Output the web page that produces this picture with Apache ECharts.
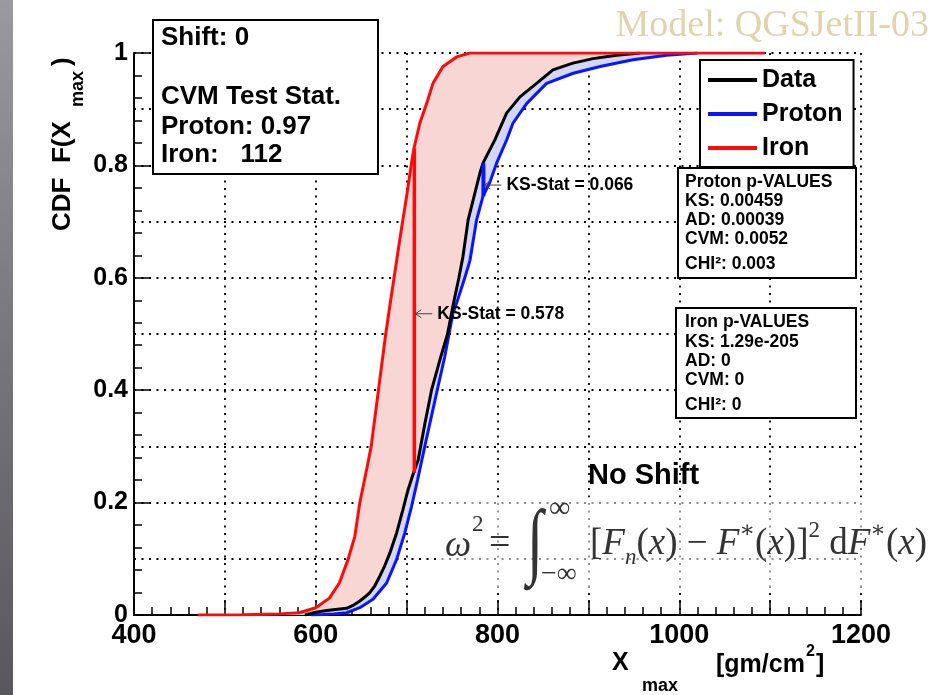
<!DOCTYPE html>
<html><head><meta charset="utf-8">
<script src="https://cdn.jsdelivr.net/npm/echarts@6/dist/echarts.min.js"></script>
<style>html,body{margin:0;padding:0;background:#fff}#c{width:935px;height:695px}</style>
</head><body><div id="c"></div>
<script>
// ---------- data ----------
const xTickLabels = [400, 600, 800, 1000, 1200];
const yTickLabels = [0, 0.2, 0.4, 0.6, 0.8, 1];
const seriesNames = ['Data', 'Proton', 'Iron'];
// empirical CDFs: [Xmax, F]
const dataCdf = [[588,0],[600,0.005],[612,0.008],[634,0.012],[641,0.017],[648.5,0.025],[654,0.032],[659.5,0.04],[665,0.052],[670.5,0.069],[676,0.088],[681.5,0.11],[689,0.146],[696,0.188],[701.6,0.223],[707,0.25],[712.7,0.276],[720,0.34],[727.4,0.40],[736.6,0.454],[745,0.50],[751,0.55],[757.5,0.60],[762,0.638],[767.7,0.703],[775,0.75],[780.6,0.786],[784,0.804],[791.6,0.828],[797,0.845],[810,0.893],[824.7,0.922],[843,0.946],[861,0.97],[883,0.982],[905,0.99],[931,0.996],[957,1.0]];
const protonCdf = [[595,0],[608,0.001],[620,0.002],[634,0.004],[648.5,0.013],[663,0.028],[678,0.057],[689,0.099],[698,0.146],[705.4,0.193],[712,0.24],[720,0.30],[733,0.395],[742,0.46],[751,0.537],[755,0.555],[764,0.60],[769.6,0.63],[777,0.703],[784,0.745],[791.6,0.77],[799,0.804],[810,0.845],[817,0.875],[832,0.91],[854,0.946],[883.4,0.964],[913,0.976],[949,0.988],[986,0.996],[1020,1.0]];
const ironCdf = [[470,0],[520,0.0005],[560,0.002],[582,0.004],[600,0.013],[615,0.03],[626,0.057],[635.6,0.099],[643,0.14],[648.5,0.2],[656,0.259],[661,0.30],[669,0.40],[677,0.50],[682,0.555],[692.5,0.668],[700,0.745],[705.4,0.804],[708,0.83],[714.5,0.875],[722,0.91],[729,0.946],[740,0.976],[755,0.993],[769.6,1.0],[1094,1.0]];
// KS distance segments
const ksIron = [[708.5,0.253],[708.5,0.83]];
const ksProton = [[784.5,0.745],[784.5,0.804]];
// annotation anchors [x, F] and texts
const ksIronLabel = [708.5, 0.536];
const ksProtonLabel = [784.5, 0.765];
const ksIronText = 'KS-Stat = 0.578';
const ksProtonText = 'KS-Stat = 0.066';
const shiftLines = ['Shift: 0', '', 'CVM Test Stat.', 'Proton: 0.97', 'Iron:   112'];
const protonPLines = ['Proton p-VALUES', 'KS: 0.00459', 'AD: 0.00039', 'CVM: 0.0052', 'CHI\u00b2: 0.003'];
const ironPLines = ['Iron p-VALUES', 'KS: 1.29e-205', 'AD: 0', 'CVM: 0', 'CHI\u00b2: 0'];

// ---------- chart ----------
const FONT = '"Liberation Sans", Arial, Helvetica, sans-serif';
const SERIF = '"Liberation Serif", "DejaVu Serif", serif';
const chart = echarts.init(document.getElementById('c'));

const pinkPoly = ironCdf.filter(p => p[0] <= 957).concat(dataCdf.slice().reverse());
const bluePoly = dataCdf.concat(protonCdf.slice().reverse());

function polySeries(name, pts, fill) {
  return {
    type: 'custom', name: name, z: 1, silent: true, clip: true,
    data: [[600, 0.5]],
    renderItem: function (params, api) {
      return { type: 'polygon', shape: { points: pts.map(p => api.coord(p)) }, style: { fill: fill } };
    }
  };
}
const dotted = { color: '#000', width: 1.8, type: [2, 5.5] };

const option = {
  animation: false,
  backgroundColor: '#fff',
  grid: { left: 134, right: 74, top: 53, bottom: 80 },
  legend: {
    data: seriesNames, left: 700, top: 60, orient: 'vertical', backgroundColor: '#fff',
    borderColor: '#000', borderWidth: 2, borderRadius: 0, padding: [7, 11, 6, 8], itemGap: 8,
    itemWidth: 49, itemHeight: 4, icon: 'rect', selectedMode: false, z: 20,
    textStyle: { fontFamily: FONT, fontWeight: 'bold', fontSize: 25, color: '#000', lineHeight: 26 }
  },
  xAxis: {
    type: 'value', min: 400, max: 1200, interval: 100,
    axisLine: { show: true, lineStyle: { color: '#000', width: 2 } },
    axisTick: { show: true, inside: true, length: 15, lineStyle: { color: '#000', width: 1.5 } },
    minorTick: { show: true, splitNumber: 5, length: 8, lineStyle: { color: '#000', width: 1.5 } },
    axisLabel: { fontFamily: FONT, fontWeight: 'bold', fontSize: 27, color: '#000', margin: 7,
      formatter: v => (xTickLabels.indexOf(v) >= 0 ? String(v) : '') },
    splitLine: { show: true, lineStyle: dotted }
  },
  yAxis: [{
    type: 'value', min: 0, max: 1, interval: 0.2,
    axisLine: { show: true, lineStyle: { color: '#000', width: 2 } },
    axisTick: { show: true, inside: true, length: 16, lineStyle: { color: '#000', width: 1.5 } },
    minorTick: { show: true, splitNumber: 5, length: 8, lineStyle: { color: '#000', width: 1.5 } },
    axisLabel: { fontFamily: FONT, fontWeight: 'bold', fontSize: 25, color: '#000', margin: 6,
      formatter: v => { const r = Math.round(v * 10) / 10; return yTickLabels.indexOf(r) >= 0 ? String(r) : ''; } },
    splitLine: { show: false }
  }, {
    type: 'value', min: 0, max: 1, interval: 0.1, position: 'left',
    axisLine: { show: false }, axisTick: { show: false }, axisLabel: { show: false },
    splitLine: { show: true, lineStyle: dotted }
  }],
  series: [
    polySeries('fillIron', pinkPoly, '#f7d6d4'),
    polySeries('fillProton', bluePoly, '#d3d6f5'),
    { type: 'line', name: 'Proton', data: protonCdf, showSymbol: false, z: 3, color: '#0a14ff',
      itemStyle: { color: '#0a14ff' }, lineStyle: { color: '#0a14ff', width: 3 } },
    { type: 'line', name: 'Data', data: dataCdf, showSymbol: false, z: 4, color: '#000',
      itemStyle: { color: '#000' }, lineStyle: { color: '#000', width: 3 } },
    { type: 'line', name: 'Iron', data: ironCdf, showSymbol: false, z: 5, color: '#ff0a0a',
      itemStyle: { color: '#ff0a0a' }, lineStyle: { color: '#ff0a0a', width: 3 } },
    { type: 'line', name: 'ksIron', data: ksIron, showSymbol: false, z: 6,
      lineStyle: { color: '#ff0a0a', width: 3.5 } },
    { type: 'line', name: 'ksProton', data: ksProton, showSymbol: false, z: 6,
      lineStyle: { color: '#0a14ff', width: 4 } }
  ]
};
chart.setOption(option);

function txt(x, y, s, font, extra, more) {
  return Object.assign({ type: 'text', x: x, y: y, z: 30,
    style: Object.assign({ text: s, font: font, fill: '#000', align: 'left', textAlign: 'left',
      verticalAlign: 'middle', textVerticalAlign: 'middle' }, extra || {}) }, more || {});
}
function box(x, y, w, h) {
  return { type: 'rect', z: 25, shape: { x: x, y: y, width: w, height: h },
    style: { fill: '#fff', stroke: '#000', lineWidth: 2 } };
}
const B26 = 'bold 26px ' + FONT;
const B25 = 'bold 25px ' + FONT;
const B17 = 'bold 17.5px ' + FONT;
const g = [];
// dark strip on the left
g.push({ type: 'rect', z: 0, shape: { x: 0, y: 0, width: 13, height: 695 },
  style: { fill: new echarts.graphic.LinearGradient(0, 0, 0, 1, [{ offset: 0, color: '#9a99a0' }, { offset: 0.5, color: '#77767b' }, { offset: 1, color: '#59575d' }]) } });
// model title
g.push(txt(929, 26, 'Model: QGSJetII-03', '38px ' + SERIF, { fill: '#e0d4ad', align: 'right', textAlign: 'right' }));
// shift box
g.push(box(153, 20, 225, 154));
[38, 67, 97, 127, 155].forEach((y, i) => { if (shiftLines[i]) g.push(txt(161, y, shiftLines[i], B26)); });
// p-value boxes
g.push(box(678, 168, 178, 110));
[182, 201, 220, 239, 264].forEach((y, i) => g.push(txt(685, y, protonPLines[i], B17)));
g.push(box(676, 308, 180, 110));
[322, 342, 361, 380, 405].forEach((y, i) => g.push(txt(685, y, ironPLines[i], B17)));
// No Shift + formula
g.push(txt(588, 476, 'No Shift', 'bold 29px ' + FONT, {}));
g.push({ type: 'rect', z: 1, shape: { x: 440, y: 497, width: 495, height: 90 }, style: { fill: 'rgba(255,255,255,0.55)' } });
const FC = '#333';
g.push(txt(445, 546, '\u03c9', 'italic 37px ' + SERIF, { fill: FC }));
g.push(txt(472, 525, '2', '23px ' + SERIF, { fill: FC }));
g.push(txt(489, 544, '=', '38px ' + SERIF, { fill: FC }));
g.push(txt(527, 546, '\u222b', '84px ' + SERIF, { fill: FC }, { scaleX: 0.7 }));
g.push(txt(549, 509, '\u221e', '30px ' + SERIF, { fill: FC }));
g.push(txt(541, 575, '\u2212\u221e', '28px ' + SERIF, { fill: FC }));
g.push({ type: 'text', x: 590, y: 544, z: 30, style: {
  text: '{r|[}{i|F}{sub|n}{r|(}{i|x}{r|) \u2212 }{i|F}{sup|\u2217}{r|(}{i|x}{r|)]}{sup|2}{r| d}{i|F}{sup|\u2217}{r|(}{i|x}{r|)}',
  align: 'left', textAlign: 'left', verticalAlign: 'middle', textVerticalAlign: 'middle',
  rich: {
    r: { fontFamily: SERIF, fontSize: 37, lineHeight: 50, verticalAlign: 'middle', fill: FC, color: FC },
    i: { fontFamily: SERIF, fontSize: 37, fontStyle: 'italic', lineHeight: 50, verticalAlign: 'middle', fill: FC, color: FC },
    sub: { fontFamily: SERIF, fontSize: 23, fontStyle: 'italic', lineHeight: 22, verticalAlign: 'bottom', fill: FC, color: FC },
    sup: { fontFamily: SERIF, fontSize: 23, lineHeight: 22, verticalAlign: 'top', fill: FC, color: FC }
  } } });
// axis titles
g.push({ type: 'group', x: 63, y: 231, rotation: Math.PI / 2, z: 30, children: [
  txt(0, 0, 'CDF  F(X', 'bold 26px ' + FONT),
  txt(124, 15, 'max', 'bold 18px ' + FONT),
  txt(165, 0, ')', 'bold 26px ' + FONT)
] });
g.push(txt(612, 663, 'X', B25));
g.push(txt(642, 686, 'max', 'bold 18px ' + FONT));
g.push(txt(716, 665, '[gm/cm', B25));
g.push(txt(806, 652, '2', 'bold 16px ' + FONT));
g.push(txt(816, 665, ']', B25));
// KS annotations anchored in data space
function ksAnno(anchor, text) {
  const p = chart.convertToPixel({ xAxisIndex: 0, yAxisIndex: 0 }, anchor);
  const x0 = p[0] + 1, y = p[1];
  g.push({ type: 'line', z: 30, shape: { x1: x0, y1: y, x2: x0 + 17, y2: y }, style: { stroke: '#444', lineWidth: 1 } });
  g.push({ type: 'polyline', z: 30, shape: { points: [[x0 + 6, y - 4], [x0, y], [x0 + 6, y + 4]] }, style: { stroke: '#444', lineWidth: 1, fill: null } });
  g.push(txt(x0 + 22, y, text, 'bold 17.5px ' + FONT));
}
ksAnno(ksIronLabel, ksIronText);
ksAnno(ksProtonLabel, ksProtonText);
chart.setOption({ graphic: { elements: g } });
</script>
</body></html>
